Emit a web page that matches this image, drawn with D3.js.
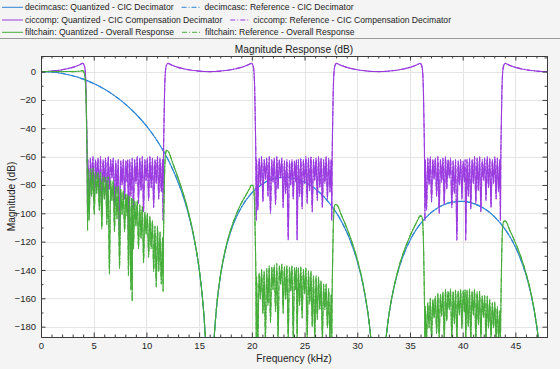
<!DOCTYPE html>
<html>
<head>
<meta charset="utf-8">
<script src="https://cdn.jsdelivr.net/npm/d3@7/dist/d3.min.js"></script>
<style>
  body { margin: 0; background: #f4f4f4; }
  svg { display: block; font-family: "Liberation Sans", Arial, Helvetica, sans-serif; }
</style>
</head>
<body>
<div id="vis"></div>
<script>
// --- data (frequency in kHz, magnitude in dB) ---
var legendLabels = [
  'decimcasc: Quantized - CIC Decimator', 'decimcasc: Reference - CIC Decimator',
  'ciccomp: Quantized - CIC Compensation Decimator', 'ciccomp: Reference - CIC Compensation Decimator',
  'filtchain: Quantized - Overall Response', 'filtchain: Reference - Overall Response'
];
var freqTicks = [0, 5, 10, 15, 20, 25, 30, 35, 40, 45];
var dbTicks = [0, -20, -40, -60, -80, -100, -120, -140, -160, -180];

// decimcasc (CIC decimator)
var cicResponse = [[0,0],[1,-0.33],[2,-1.31],[3,-2.97],[4,-5.32],[5,-8.42],[6,-12.33],[7,-17.13],[8,-22.94],
  [9,-29.93],[10,-38.36],[11,-48.62],[12,-61.38],[12.5,-69.05],[13,-77.89],[13.5,-88.3],[14,-100.92],[14.5,-117.02],
  [15,-139.35],[15.3,-158.7],[15.5,-176.79],[15.6,-188.7],[16,-250],[16.45,-185.1],[16.7,-162.9],[17,-145.27],
  [17.5,-125.9],[18,-112.81],[18.5,-103.2],[19,-95.84],[20,-85.57],[21,-79.28],[22,-75.8],[23,-74.57],[24,-75.32],
  [25,-78.0],[26,-82.66],[27,-89.58],[28,-99.38],[28.5,-105.7],[29,-113.21],[29.5,-122.4],[30,-133.82],[30.5,-148.79],
  [31,-170.03],[31.15,-178.6],[31.3,-188.8],[32,-250],[32.7,-190.1],[32.9,-177.3],[33,-172.0],[33.5,-151.74],
  [34,-137.76],[34.5,-127.3],[35,-119.15],[35.5,-112.6],[36,-107.31],[37,-99.54],[38,-94.66],[39,-92.1],[40,-91.57],
  [41,-93.01],[42,-96.49],[43,-102.29],[44,-110.99],[44.5,-116.76],[45,-123.76],[45.5,-132.4],[46,-143.33],
  [46.5,-157.78],[47,-178.52],[47.15,-186.9],[47.3,-200],[48,-250]];

// ciccomp (compensation decimator)
var compPass1 = [[0,0],[0.5,0.08],[1,0.33],[1.5,0.75],[2,1.31],[2.5,2.05],[3,2.97],[3.5,4.3],[3.8,5.3],[3.95,5.9],
  [4.1,4.5],[4.2,0],[4.28,-15],[4.34,-40],[4.38,-60],[4.42,-105]];
var compStop1 = [[4.45,-62],[4.57,-98],[4.69,-61],[4.81,-80],[4.93,-60],[5.05,-92],[5.17,-62],[5.29,-76],[5.41,-61],
  [5.53,-88],[5.65,-60],[5.77,-100],[5.89,-62],[6.01,-78],[6.13,-61],[6.25,-94],[6.37,-60],[6.49,-83],[6.61,-62],
  [6.73,-75],[6.85,-61],[6.97,-96],[7.09,-63],[7.21,-86],[7.33,-62],[7.45,-119],[7.57,-63],[7.69,-80],[7.81,-62],
  [7.93,-90],[8.05,-63],[8.17,-78],[8.23,-62],[8.29,-119],[8.41,-62],[8.53,-88],[8.65,-61],[8.77,-97],[8.89,-62],
  [9.01,-79],[9.13,-60],[9.25,-93],[9.37,-61],[9.49,-84],[9.61,-60],[9.73,-99],[9.85,-62],[9.97,-77],[10.09,-61],
  [10.21,-91],[10.33,-60],[10.45,-82],[10.57,-61],[10.69,-96],[10.81,-62],[10.93,-79],[11.05,-60],[11.17,-90],
  [11.29,-61],[11.41,-85],[11.53,-62]];
var compPass2 = [[11.58,-105],[11.62,-60],[11.66,-40],[11.72,-15],[11.8,0],[11.9,4.5],[12.05,5.9],[12.2,5.3],
  [12.5,4.3],[13,2.97],[13.5,2.05],[14,1.31],[14.5,0.75],[15,0.33],[15.5,0.08],[16,0],[16.5,0.08],[17,0.33],
  [17.5,0.75],[18,1.31],[18.5,2.05],[19,2.97],[19.5,4.3],[19.8,5.3],[19.95,5.9],[20.1,4.5],[20.2,0],[20.28,-15],
  [20.34,-40],[20.38,-60],[20.42,-105]];
var compStop2 = [[20.45,-62],[20.57,-98],[20.69,-61],[20.81,-80],[20.93,-60],[21.05,-92],[21.17,-62],[21.29,-76],
  [21.41,-61],[21.53,-88],[21.65,-60],[21.77,-100],[21.89,-62],[22.01,-78],[22.13,-61],[22.25,-94],[22.37,-60],
  [22.49,-83],[22.61,-62],[22.73,-75],[22.85,-61],[22.97,-96],[23.09,-63],[23.21,-86],[23.33,-62],[23.45,-119],
  [23.57,-63],[23.69,-80],[23.81,-62],[23.93,-90],[24.05,-63],[24.17,-78],[24.23,-62],[24.29,-119],[24.41,-62],
  [24.53,-88],[24.65,-61],[24.77,-97],[24.89,-62],[25.01,-79],[25.13,-60],[25.25,-93],[25.37,-61],[25.49,-84],
  [25.61,-60],[25.73,-99],[25.85,-62],[25.97,-77],[26.09,-61],[26.21,-91],[26.33,-60],[26.45,-82],[26.57,-61],
  [26.69,-96],[26.81,-62],[26.93,-79],[27.05,-60],[27.17,-90],[27.29,-61],[27.41,-85],[27.53,-62]];
var compPass3 = [[27.58,-105],[27.62,-60],[27.66,-40],[27.72,-15],[27.8,0],[27.9,4.5],[28.05,5.9],[28.2,5.3],
  [28.5,4.3],[29,2.97],[29.5,2.05],[30,1.31],[30.5,0.75],[31,0.33],[31.5,0.08],[32,0],[32.5,0.08],[33,0.33],
  [33.5,0.75],[34,1.31],[34.5,2.05],[35,2.97],[35.5,4.3],[35.8,5.3],[35.95,5.9],[36.1,4.5],[36.2,0],[36.28,-15],
  [36.34,-40],[36.38,-60],[36.42,-105]];
var compStop3 = [[36.45,-62],[36.57,-98],[36.69,-61],[36.81,-80],[36.93,-60],[37.05,-92],[37.17,-62],[37.29,-76],
  [37.41,-61],[37.53,-88],[37.65,-60],[37.77,-100],[37.89,-62],[38.01,-78],[38.13,-61],[38.25,-94],[38.37,-60],
  [38.49,-83],[38.61,-62],[38.73,-75],[38.85,-61],[38.97,-96],[39.09,-63],[39.21,-86],[39.33,-62],[39.45,-119],
  [39.57,-63],[39.69,-80],[39.81,-62],[39.93,-90],[40.05,-63],[40.17,-78],[40.23,-62],[40.29,-119],[40.41,-62],
  [40.53,-88],[40.65,-61],[40.77,-97],[40.89,-62],[41.01,-79],[41.13,-60],[41.25,-93],[41.37,-61],[41.49,-84],
  [41.61,-60],[41.73,-99],[41.85,-62],[41.97,-77],[42.09,-61],[42.21,-91],[42.33,-60],[42.45,-82],[42.57,-61],
  [42.69,-96],[42.81,-62],[42.93,-79],[43.05,-60],[43.17,-90],[43.29,-61],[43.41,-85],[43.53,-62]];
var compPass4 = [[43.58,-105],[43.62,-60],[43.66,-40],[43.72,-15],[43.8,0],[43.9,4.5],[44.05,5.9],[44.2,5.3],
  [44.5,4.3],[45,2.97],[45.5,2.05],[46,1.31],[46.5,0.75],[47,0.33],[47.5,0.08],[48,0]];

// filtchain (overall response)
var chainPass1 = [[0,0],[0.5,0.02],[1,0],[1.5,0.02],[2,0],[2.5,0.05],[3,0],[3.5,0.2],[3.8,0.45],[3.95,0.7],
  [4.1,-1.1],[4.2,-5.9],[4.28,-21],[4.34,-46],[4.38,-66.5],[4.42,-112]];
var chainStop1 = [[4.45,-68.7],[4.57,-105],[4.69,-68.5],[4.81,-88],[4.93,-68],[5.05,-101],[5.17,-71],[5.29,-86],
  [5.41,-71],[5.53,-98],[5.65,-71],[5.77,-111],[5.89,-74],[6.01,-90],[6.13,-74],[6.25,-108],[6.37,-74],[6.49,-143],
  [6.61,-77],[6.73,-91],[6.85,-77],[6.97,-113],[7.09,-81],[7.21,-104],[7.33,-81],[7.45,-139],[7.57,-83],[7.69,-101],
  [7.81,-84],[7.93,-113],[8.05,-86],[8.17,-102],[8.23,-87],[8.29,-144],[8.41,-88],[8.53,-154],[8.59,-89],[8.65,-162],
  [8.71,-90],[8.77,-125],[8.89,-91],[9.01,-109],[9.13,-91],[9.25,-125],[9.37,-94],[9.49,-118],[9.61,-95],[9.73,-135],
  [9.85,-99],[9.97,-115],[10.09,-100],[10.21,-131],[10.33,-102],[10.45,-125],[10.57,-105],[10.69,-141],[10.81,-109],
  [10.93,-152],[11.05,-109],[11.17,-141],[11.29,-113],[11.41,-150],[11.53,-117]];
var chainPass2 = [[11.58,-155],[11.62,-117],[11.66,-97],[11.72,-73],[11.8,-59],[11.9,-55.6],[12.05,-56.1],
  [12.5,-64.7],[13,-74.9],[13.5,-86.2],[14,-99.6],[14.5,-116.3],[15,-139],[15.3,-158.5],[15.5,-176.7],[15.6,-188.6],
  [16,-250],[16.45,-185],[16.7,-162.6],[17,-144.9],[17.5,-125.1],[18,-111.5],[18.5,-101.1],[19,-92.9],[19.5,-86.4],
  [19.8,-82.3],[19.95,-80.2],[20.1,-80.4],[20.2,-84.3],[20.28,-98.8],[20.34,-123.4],[20.38,-143],[20.42,-190]];
var chainStop2 = [[20.45,-144.7],[20.57,-190],[20.69,-142],[20.81,-160.5],[20.93,-139.7],[21.05,-171],[21.17,-140.7],
  [21.29,-190],[21.41,-139],[21.53,-165],[21.65,-137],[21.77,-177],[21.89,-138],[22.01,-154],[22.13,-136.6],
  [22.25,-169.5],[22.37,-135.3],[22.49,-190],[22.61,-137],[22.73,-150],[22.85,-135.8],[22.97,-170.6],[23.09,-137.6],
  [23.21,-160.7],[23.33,-136.8],[23.45,-190],[23.57,-138],[23.69,-155],[23.81,-137],[23.93,-190],[24.05,-138.5],
  [24.17,-154],[24.23,-138],[24.29,-190],[24.41,-138.4],[24.53,-165],[24.65,-138],[24.77,-174],[24.89,-139.7],
  [25.01,-157],[25.13,-138.6],[25.25,-190],[25.37,-140.7],[25.49,-164],[25.61,-140.8],[25.73,-180],[25.85,-144],
  [25.97,-190],[26.09,-144],[26.21,-175],[26.33,-145],[26.45,-168],[26.57,-147.6],[26.69,-190],[26.81,-150],
  [26.93,-168],[27.05,-150],[27.17,-181],[27.29,-153],[27.41,-190],[27.53,-157]];
var chainPass3 = [[27.58,-190],[27.62,-155.7],[27.66,-136],[27.72,-111.6],[27.8,-97.4],[27.9,-93.9],[28.05,-94],
  [28.5,-101.4],[29,-110.2],[29.5,-120.3],[30,-132.5],[30.5,-148],[31,-169.7],[31.15,-178.4],[31.3,-188.7],[32,-250],
  [32.7,-190],[32.9,-177.3],[33,-171.7],[33.5,-151.5],[34,-136.5],[34.5,-125.3],[35,-116.2],[35.5,-108.3],
  [35.8,-103.8],[35.95,-101.8],[36.1,-102],[36.2,-105.8],[36.28,-120.2],[36.34,-144.7],[36.38,-164.4],[36.42,-190]];
var chainStop3 = [[36.45,-165.8],[36.57,-190],[36.69,-163],[36.81,-181],[36.93,-160],[37.05,-190],[37.17,-160.7],
  [37.29,-174],[37.41,-158.5],[37.53,-185],[37.65,-156.4],[37.77,-190],[37.89,-157],[38.01,-172.6],[38.13,-155.3],
  [38.25,-190],[38.37,-153.7],[38.49,-176],[38.61,-155],[38.73,-168],[38.85,-153.5],[38.97,-190],[39.09,-155],
  [39.21,-178],[39.33,-154],[39.45,-190],[39.57,-154.8],[39.69,-171.7],[39.81,-153.7],[39.93,-181.6],[40.05,-154.6],
  [40.17,-169.8],[40.23,-153.9],[40.29,-190],[40.41,-154.2],[40.53,-180],[40.65,-153.5],[40.77,-190],[40.89,-154.9],
  [41.01,-172],[41.13,-153.5],[41.25,-190],[41.37,-155.3],[41.49,-178.7],[41.61,-155.1],[41.73,-190],[41.85,-158],
  [41.97,-173.4],[42.09,-158],[42.21,-190],[42.33,-158.4],[42.45,-181],[42.57,-160.8],[42.69,-190],[42.81,-163],
  [42.93,-181],[43.05,-162.7],[43.17,-190],[43.29,-165.8],[43.41,-190],[43.53,-168.8]];
var chainPass4 = [[43.58,-190],[43.62,-167.7],[43.66,-148],[43.72,-123.6],[43.8,-109.2],[43.9,-105.6],
  [44.05,-105.5],[44.5,-112.5],[45,-120.8],[45.5,-130.3],[46,-142],[46.5,-157],[47,-178.2],[47.15,-186.8],
  [47.3,-200],[48,-250]];

var compResponse = [].concat(compPass1, compStop1, compPass2, compStop2, compPass3, compStop3, compPass4);
var chainResponse = [].concat(chainPass1, chainStop1, chainPass2, chainStop2, chainPass3, chainStop3, chainPass4);

var seriesColors = ['#2f86d6', '#9a3be0', '#46ad3a'];

// --- chart ---
var width = 560, height = 369;
var margin = { top: 56, right: 13, bottom: 32, left: 41 };

var x = d3.scaleLinear().domain([0, 48]).range([margin.left, width - margin.right]);
var y = d3.scaleLinear().domain([11, -187.3]).range([margin.top, height - margin.bottom]);

var svg = d3.select('#vis').append('svg')
  .attr('width', width)
  .attr('height', height);

svg.append('rect').attr('width', width).attr('height', height).attr('fill', '#f4f4f4');

// legend strip
svg.append('line')
  .attr('x1', 0).attr('x2', width).attr('y1', 38.5).attr('y2', 38.5)
  .attr('stroke', '#9a9a9a').attr('stroke-width', 1);

// plot background
svg.append('rect')
  .attr('x', margin.left).attr('y', margin.top)
  .attr('width', x.range()[1] - margin.left)
  .attr('height', y.range()[1] - margin.top)
  .attr('fill', '#fff');

svg.append('clipPath').attr('id', 'plotclip')
  .append('rect')
  .attr('x', margin.left).attr('y', margin.top)
  .attr('width', x.range()[1] - margin.left)
  .attr('height', y.range()[1] - margin.top);

// grid
var grid = svg.append('g').attr('stroke', '#e4e4e4').attr('stroke-width', 1);
grid.selectAll('.vg').data(freqTicks.slice(1)).enter().append('line')
  .attr('x1', function (d) { return Math.round(x(d)) + 0.5; })
  .attr('x2', function (d) { return Math.round(x(d)) + 0.5; })
  .attr('y1', margin.top).attr('y2', y.range()[1]);
grid.selectAll('.hg').data(dbTicks).enter().append('line')
  .attr('y1', function (d) { return Math.round(y(d)) + 0.5; })
  .attr('y2', function (d) { return Math.round(y(d)) + 0.5; })
  .attr('x1', margin.left).attr('x2', x.range()[1]);

// curves
var line = d3.line()
  .x(function (d) { return x(d[0]); })
  .y(function (d) { return y(d[1]); })
  .curve(d3.curveMonotoneX);

var series = [
  { data: cicResponse, color: seriesColors[0], dash: null },
  { data: cicResponse, color: seriesColors[0], dash: '5,2,1,2' },
  { data: compResponse, color: seriesColors[1], dash: null },
  { data: compResponse, color: seriesColors[1], dash: '5,2,1,2' },
  { data: chainResponse, color: seriesColors[2], dash: null },
  { data: chainResponse, color: seriesColors[2], dash: '5,2,1,2' }
];

var plot = svg.append('g').attr('clip-path', 'url(#plotclip)');
plot.selectAll('.series').data(series).enter().append('path')
  .attr('class', 'series')
  .attr('d', function (d) { return line(d.data); })
  .attr('fill', 'none')
  .attr('stroke', function (d) { return d.color; })
  .attr('stroke-width', 1.1)
  .attr('stroke-dasharray', function (d) { return d.dash; });

// axes (box with inward ticks)
var axisColor = '#3c3c3c';
function styleAxis(g) {
  g.select('.domain').attr('stroke', axisColor);
  g.selectAll('.tick line').attr('stroke', axisColor);
  g.selectAll('.tick text').attr('fill', '#262626');
  g.attr('font-family', null).attr('font-size', 9.5);
}

var xMinor = d3.range(1, 48).filter(function (v) { return v % 5 !== 0; });
var yMinor = [10, -10, -30, -50, -70, -90, -110, -130, -150, -170];

var bottomY = y.range()[1];
svg.append('g').attr('transform', 'translate(0,' + bottomY + ')')
  .call(d3.axisBottom(x).tickValues(xMinor).tickSizeInner(-2.5).tickSizeOuter(0).tickFormat(''))
  .call(styleAxis);
svg.append('g').attr('transform', 'translate(0,' + bottomY + ')')
  .call(d3.axisBottom(x).tickValues(freqTicks).tickSizeInner(-4.5).tickSizeOuter(0).tickPadding(5))
  .call(styleAxis);
svg.append('g').attr('transform', 'translate(0,' + margin.top + ')')
  .call(d3.axisTop(x).tickValues(xMinor).tickSizeInner(-2.5).tickSizeOuter(0).tickFormat(''))
  .call(styleAxis);
svg.append('g').attr('transform', 'translate(0,' + margin.top + ')')
  .call(d3.axisTop(x).tickValues(freqTicks).tickSizeInner(-4.5).tickSizeOuter(0).tickFormat(''))
  .call(styleAxis);

svg.append('g').attr('transform', 'translate(' + margin.left + ',0)')
  .call(d3.axisLeft(y).tickValues(yMinor).tickSizeInner(-2.5).tickSizeOuter(0).tickFormat(''))
  .call(styleAxis);
svg.append('g').attr('transform', 'translate(' + margin.left + ',0)')
  .call(d3.axisLeft(y).tickValues(dbTicks).tickSizeInner(-4.5).tickSizeOuter(0).tickPadding(5))
  .call(styleAxis);
svg.append('g').attr('transform', 'translate(' + x.range()[1] + ',0)')
  .call(d3.axisRight(y).tickValues(yMinor).tickSizeInner(-2.5).tickSizeOuter(0).tickFormat(''))
  .call(styleAxis);
svg.append('g').attr('transform', 'translate(' + x.range()[1] + ',0)')
  .call(d3.axisRight(y).tickValues(dbTicks).tickSizeInner(-4.5).tickSizeOuter(0).tickFormat(''))
  .call(styleAxis);

// labels
var cx = (margin.left + x.range()[1]) / 2;
svg.append('text').attr('x', cx).attr('y', 53)
  .attr('text-anchor', 'middle').attr('font-size', 10.2).attr('fill', '#222')
  .text('Magnitude Response (dB)');
svg.append('text').attr('x', cx).attr('y', 361.5)
  .attr('text-anchor', 'middle').attr('font-size', 10.2).attr('fill', '#222')
  .text('Frequency (kHz)');
svg.append('text')
  .attr('transform', 'translate(15,' + ((margin.top + bottomY) / 2) + ') rotate(-90)')
  .attr('text-anchor', 'middle').attr('font-size', 10.2).attr('fill', '#222')
  .text('Magnitude (dB)');

// legend: two entries per row, second entry flows after the first
var legendRows = [7.3, 20, 32.3];
var legend = svg.append('g').attr('font-size', 8.6).attr('fill', '#222');
legendRows.forEach(function (rowY, i) {
  var color = seriesColors[i];
  legend.append('line').attr('x1', 2).attr('x2', 23).attr('y1', rowY).attr('y2', rowY)
    .attr('stroke', color).attr('stroke-width', 1);
  var t1 = legend.append('text').attr('x', 25).attr('y', rowY).attr('dy', '0.35em')
    .text(legendLabels[2 * i]);
  var x2 = 25 + t1.node().getComputedTextLength() + 31;
  legend.append('line').attr('x1', x2 - 23).attr('x2', x2 - 3).attr('y1', rowY).attr('y2', rowY)
    .attr('stroke', color).attr('stroke-width', 1).attr('stroke-dasharray', '5,2,1,2');
  legend.append('text').attr('x', x2).attr('y', rowY).attr('dy', '0.35em')
    .text(legendLabels[2 * i + 1]);
});
</script>
</body>
</html>
